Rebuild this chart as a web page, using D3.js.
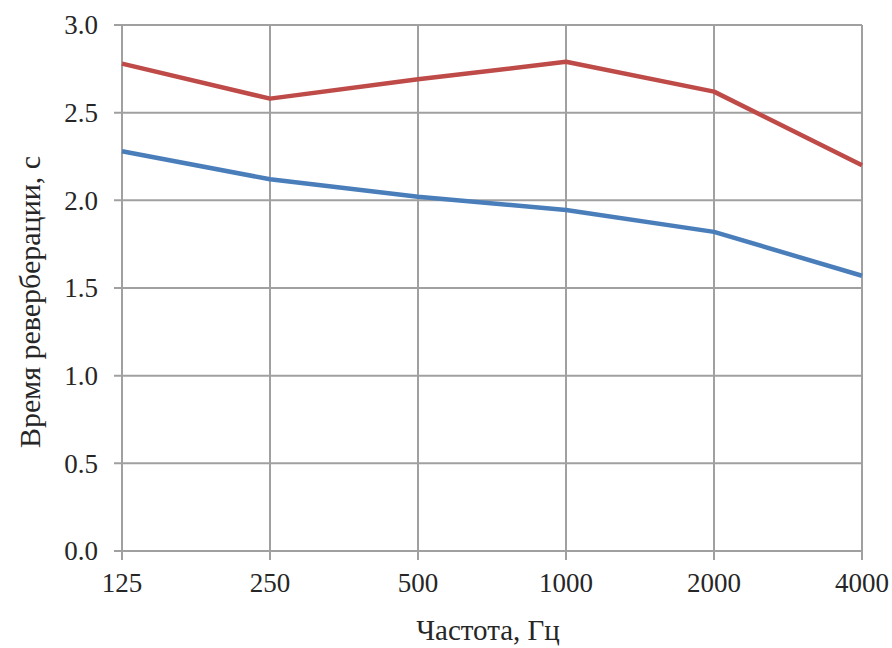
<!DOCTYPE html>
<html>
<head>
<meta charset="utf-8">
<script src="https://cdn.jsdelivr.net/npm/d3@7"></script>
<style>
  body { margin: 0; background: #fff; }
  svg text { font-family: "Liberation Serif", "Times New Roman", Times, "DejaVu Serif", serif; fill: #262626; }
</style>
</head>
<body>
<svg></svg>
<script>
var freqs = ["125", "250", "500", "1000", "2000", "4000"];
var redSeries = [2.78, 2.58, 2.69, 2.79, 2.62, 2.20];
var blueSeries = [2.28, 2.12, 2.02, 1.945, 1.82, 1.57];
var yTicks = [0, 0.5, 1.0, 1.5, 2.0, 2.5, 3.0];

var width = 892, height = 648,
  margin = { top: 25, right: 30, bottom: 97, left: 122 };

var svg = d3.select("svg")
  .attr("width", width)
  .attr("height", height)
  .attr("font-family", "'Liberation Serif', 'Times New Roman', serif");

var x = d3.scalePoint()
  .domain(freqs)
  .range([margin.left, width - margin.right]);

var y = d3.scaleLinear()
  .domain([0, 3])
  .range([height - margin.bottom, margin.top]);

var grid = svg.append("g").attr("class", "grid");

// horizontal grid lines + left ticks
grid.selectAll("line.h")
  .data(yTicks)
  .enter().append("line")
  .attr("class", "h")
  .attr("x1", margin.left - 8)
  .attr("x2", width - margin.right)
  .attr("y1", function(d) { return y(d); })
  .attr("y2", function(d) { return y(d); })
  .attr("stroke", "#a0a0a0")
  .attr("stroke-width", 2);

// vertical grid lines + bottom ticks
grid.selectAll("line.v")
  .data(freqs)
  .enter().append("line")
  .attr("class", "v")
  .attr("x1", function(d) { return x(d); })
  .attr("x2", function(d) { return x(d); })
  .attr("y1", margin.top)
  .attr("y2", height - margin.bottom + 9)
  .attr("stroke", "#a0a0a0")
  .attr("stroke-width", 2);

// y tick labels
svg.append("g").selectAll("text")
  .data(yTicks)
  .enter().append("text")
  .attr("x", margin.left - 24)
  .attr("y", function(d) { return y(d); })
  .attr("dy", "0.35em")
  .attr("text-anchor", "end")
  .style("font-size", "27px")
  .text(function(d) { return d3.format(".1f")(d); });

// x tick labels
svg.append("g").selectAll("text")
  .data(freqs)
  .enter().append("text")
  .attr("x", function(d) { return x(d); })
  .attr("y", 592)
  .attr("text-anchor", "middle")
  .style("font-size", "27px")
  .text(function(d) { return d; });

var line = d3.line()
  .x(function(d, i) { return x(freqs[i]); })
  .y(function(d) { return y(d); });

svg.append("path")
  .datum(blueSeries)
  .attr("fill", "none")
  .attr("stroke", "#4a7ebb")
  .attr("stroke-width", 4.5)
  .attr("stroke-linejoin", "round")
  .attr("d", line);

svg.append("path")
  .datum(redSeries)
  .attr("fill", "none")
  .attr("stroke", "#be4b48")
  .attr("stroke-width", 4.5)
  .attr("stroke-linejoin", "round")
  .attr("d", line);

// axis titles
svg.append("text")
  .attr("x", 488)
  .attr("y", 640)
  .attr("text-anchor", "middle")
  .style("font-size", "29px")
  .text("Частота, Гц");

svg.append("text")
  .attr("transform", "translate(40,302) rotate(-90)")
  .attr("text-anchor", "middle")
  .style("font-size", "30px")
  .text("Время реверберации, с");
</script>
</body>
</html>
